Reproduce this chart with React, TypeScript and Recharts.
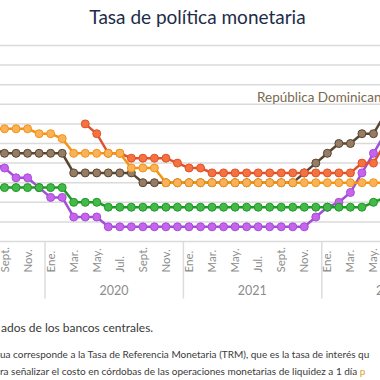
import { CartesianGrid, Line, LineChart, XAxis, YAxis } from "recharts";

// meses (categorías), desde agosto 2019 hasta junio 2022
const monthNames = ["Ene.", "Feb.", "Mar.", "Abr.", "May.", "Jun.", "Jul.", "Ago.", "Sept.", "Oct.", "Nov.", "Dic."];
const startYear = 2019;
const startMonth = 7; // agosto
const labeledMonths = ["Ene.", "Mar.", "May.", "Jul.", "Sept.", "Nov."];

// tasas (%), una por mes
const honduras = [5.75, 5.75, 5.75, 5.75, 5.5, 5.5, 5.25, 4.5, 4.5, 4.5, 4.5, 4.5, 3.75, 3.75, 3.75, 3.0, 3.0, 3.0, 3.0, 3.0, 3.0, 3.0, 3.0, 3.0, 3.0, 3.0, 3.0, 3.0, 3.0, 3.0, 3.0, 3.0, 3.0, 3.0, 3.0];
const nicaragua = [null, null, null, null, null, null, null, null, 6.0, 5.5, 4.5, 4.5, 4.25, 4.25, 4.25, 4.25, 4.0, 3.75, 3.75, 3.5, 3.5, 3.5, 3.5, 3.5, 3.5, 3.5, 3.5, 3.5, 3.5, 3.5, 3.5, 3.5, 4.0, 4.0, 5.0];
const repDominicana = [4.75, 4.5, 4.5, 4.5, 4.5, 4.5, 4.5, 3.5, 3.5, 3.5, 3.5, 3.5, 3.5, 3.0, 3.0, 3.0, 3.0, 3.0, 3.0, 3.0, 3.0, 3.0, 3.0, 3.0, 3.0, 3.0, 3.0, 3.5, 4.0, 4.5, 5.0, 5.0, 5.5, 5.5, 6.5];
const guatemala = [2.75, 2.75, 2.75, 2.75, 2.75, 2.75, 2.75, 2.0, 2.0, 2.0, 1.75, 1.75, 1.75, 1.75, 1.75, 1.75, 1.75, 1.75, 1.75, 1.75, 1.75, 1.75, 1.75, 1.75, 1.75, 1.75, 1.75, 1.75, 1.75, 1.75, 1.75, 1.75, 1.75, 2.0, 2.25];
const costaRica = [4.0, 3.75, 3.25, 3.25, 2.75, 2.25, 2.25, 1.25, 1.25, 1.25, 0.75, 0.75, 0.75, 0.75, 0.75, 0.75, 0.75, 0.75, 0.75, 0.75, 0.75, 0.75, 0.75, 0.75, 0.75, 0.75, 0.75, 0.75, 1.25, 1.75, 2.0, 2.5, 3.5, 4.5, 5.5];

const yTicks = [0, 1, 2, 3, 4, 5, 6, 7, 8, 9, 10];
const yDomain = [0, 10];

const data = honduras.map((_, i) => {
  const m = (startMonth + i) % 12;
  const year = startYear + Math.floor((startMonth + i) / 12);
  return {
    key: `${monthNames[m]}${year}`,
    month: monthNames[m],
    monthIndex: m,
    year,
    honduras: honduras[i],
    nicaragua: nicaragua[i],
    repDominicana: repDominicana[i],
    guatemala: guatemala[i],
    costaRica: costaRica[i],
  };
});

const BAND = 11.2;
const PLOT_W = BAND * data.length;
const FONT = "Lato, 'Open Sans', sans-serif";

// una línea por cada valor entero del eje Y
function gridRows({ yAxis, offset }: any) {
  if (yAxis && typeof yAxis.scale === "function") return yTicks.map((t) => yAxis.scale(t));
  const [lo, hi] = yDomain;
  return yTicks.map((t) => offset.top + offset.height * (1 - (t - lo) / (hi - lo)));
}

function MonthTick(props: any) {
  const { x, y, index } = props;
  const d = data[index];
  if (!d) return null;
  return (
    <g>
      {d.monthIndex === 0 && (
        <line x1={x - BAND / 2} x2={x - BAND / 2} y1={y} y2={y + 57} stroke="#dcdcdc" strokeWidth={1.5} />
      )}
      {labeledMonths.includes(d.month) && (
        <text
          transform={`translate(${x + 4},${y + 31}) rotate(-90)`}
          textAnchor="start"
          fontSize={11.5}
          fill="#8c8c8c"
          fontFamily={FONT}
        >
          {d.month}
        </text>
      )}
    </g>
  );
}

function YearTick(props: any) {
  const { x, y, index } = props;
  const d = data[index];
  if (!d || d.monthIndex !== 5) return null;
  return (
    <text x={x + BAND / 2} y={y + 19} textAnchor="middle" fontSize={12.5} fill="#8c8c8c" fontFamily={FONT}>
      {d.year}
    </text>
  );
}

const series = [
  { key: "costaRica", line: "#a24fd6", dot: "#c763ec" },
  { key: "repDominicana", line: "#5a4530", dot: "#957c64" },
  { key: "guatemala", line: "#1c9a22", dot: "#43b94a" },
  { key: "nicaragua", line: "#e0522a", dot: "#f5713f" },
  { key: "honduras", line: "#f39312", dot: "#f9b25a" },
];

export default function App() {
  return (
    <div style={{ position: "absolute", left: 0, top: 0, width: 380, height: 380, overflow: "hidden", background: "#fff", fontFamily: FONT }}>
      <div style={{ position: "absolute", left: 0, width: 395, top: 5, textAlign: "center", fontSize: 19, color: "#1d2c49", whiteSpace: "nowrap" }}>
        Tasa de política monetaria
      </div>
      <div style={{ position: "absolute", left: -7, top: 0 }}>
        <LineChart width={PLOT_W} height={300.5} data={data} margin={{ top: 45.5, right: 0, left: 0, bottom: 0 }}>
          <CartesianGrid
            xAxisId="m"
            vertical={false}
            stroke="#dadada"
            strokeWidth={1.5}
            horizontalCoordinatesGenerator={gridRows}
          />
          <XAxis xAxisId="m" dataKey="key" interval={0} axisLine={false} tickLine={false} tickSize={0} tickMargin={0} height={34} tick={<MonthTick />} />
          <XAxis xAxisId="y" dataKey="key" interval={0} axisLine={false} tickLine={false} tickSize={0} tickMargin={0} height={25} tick={<YearTick />} />
          <YAxis hide domain={yDomain} ticks={yTicks} />
          {series.map((s) => (
            <Line
              key={s.key}
              xAxisId="m"
              dataKey={s.key}
              type="linear"
              stroke={s.line}
              strokeWidth={2.5}
              dot={{ r: 4, fill: s.dot, stroke: s.line, strokeWidth: 1 }}
              activeDot={false}
              isAnimationActive={false}
            />
          ))}
        </LineChart>
      </div>
      <div style={{ position: "absolute", left: 257, top: 89, fontSize: 13.5, color: "#7a6950", whiteSpace: "nowrap" }}>
        República Dominicana
      </div>
      <div style={{ position: "absolute", left: 1, top: 320, fontSize: 12, color: "#3a3a3a", whiteSpace: "nowrap" }}>
        ados de los bancos centrales.
      </div>
      <div style={{ position: "absolute", left: 0, top: 346, fontSize: 10, lineHeight: "17px", color: "#3a3a3a", whiteSpace: "nowrap" }}>
        <div>ua corresponde a la Tasa de Referencia Monetaria (TRM), que es la tasa de interés qu</div>
        <div>
          ra señalizar el costo en córdobas de las operaciones monetarias de liquidez a 1 día <span style={{ color: "#d9a21b" }}>p</span>
        </div>
      </div>
    </div>
  );
}
